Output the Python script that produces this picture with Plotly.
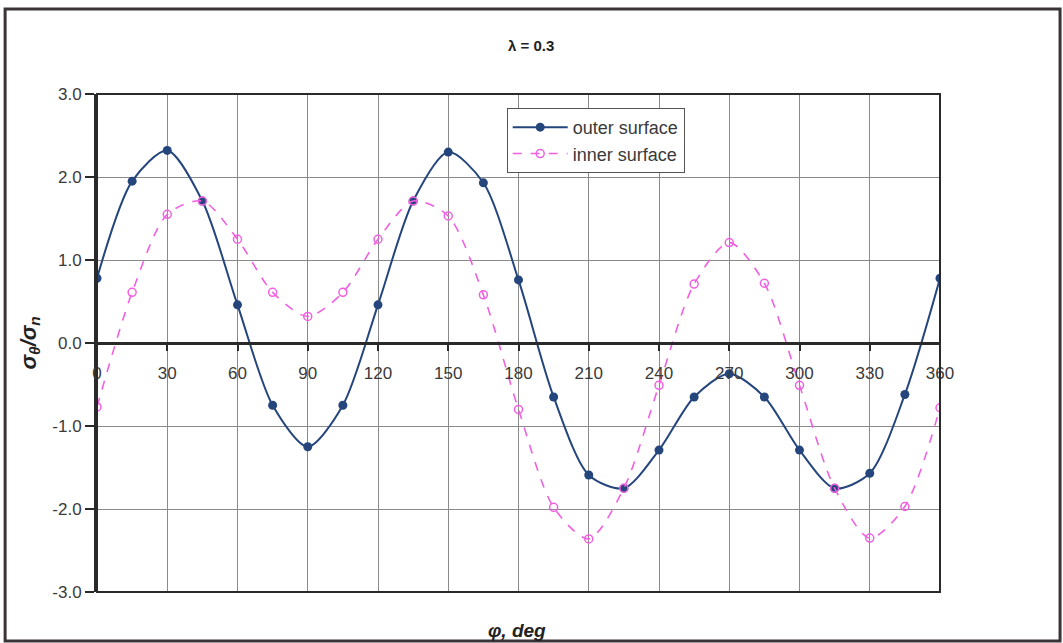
import plotly.graph_objects as go

# Angle around the circumference, degrees
phi = [0, 15, 30, 45, 60, 75, 90, 105, 120, 135, 150, 165, 180,
       195, 210, 225, 240, 255, 270, 285, 300, 315, 330, 345, 360]

# Normalised hoop stress sigma_theta / sigma_n
outer_surface = [0.78, 1.95, 2.32, 1.71, 0.46, -0.75, -1.25, -0.75, 0.46, 1.71, 2.30, 1.93, 0.76,
                 -0.65, -1.59, -1.75, -1.29, -0.65, -0.37, -0.65, -1.29, -1.75, -1.57, -0.62, 0.78]
inner_surface = [-0.77, 0.61, 1.55, 1.71, 1.25, 0.61, 0.32, 0.61, 1.25, 1.71, 1.53, 0.58, -0.80,
                 -1.98, -2.36, -1.75, -0.51, 0.71, 1.21, 0.72, -0.51, -1.75, -2.35, -1.97, -0.78]

x_ticks = [0, 30, 60, 90, 120, 150, 180, 210, 240, 270, 300, 330, 360]
y_ticks = [-3.0, -2.0, -1.0, 0.0, 1.0, 2.0, 3.0]

NAVY = "#25457d"
PINK = "#f060e0"
AXIS = "#2a2a2a"
TEXT = "#3a3a3a"
FONT = "Arial, Liberation Sans"

fig = go.Figure()
fig.add_trace(go.Scatter(
    x=phi, y=outer_surface, name="outer surface", mode="lines+markers",
    line=dict(color=NAVY, width=2, shape="spline", smoothing=0.8),
    marker=dict(color=NAVY, size=9, symbol="circle"),
))
fig.add_trace(go.Scatter(
    x=phi, y=inner_surface, name="inner surface", mode="lines+markers",
    line=dict(color=PINK, width=1.6, dash="dash", shape="spline", smoothing=0.8),
    marker=dict(color=PINK, size=8, symbol="circle-open", line=dict(width=1.5)),
))

# Outer frame around the whole chart
fig.add_shape(type="rect", xref="paper", yref="paper",
              x0=-0.109, x1=1.1424, y0=-0.0984, y1=1.1707,
              line=dict(color="#3a3338", width=3), layer="below")
# Plot area border
fig.add_shape(type="rect", xref="paper", yref="paper", x0=0, x1=1, y0=0, y1=1,
              line=dict(color=AXIS, width=2), layer="above")

fig.add_annotation(text="<b>λ = 0.3</b>", xref="paper", yref="paper",
                   x=0.515, y=1.097, xanchor="center", yanchor="middle", showarrow=False,
                   font=dict(family=FONT, size=15, color="#222"))
fig.add_annotation(text="<b><i>φ, deg</i></b>", xref="paper", yref="paper",
                   x=0.498, y=-0.078, xanchor="center", yanchor="middle", showarrow=False,
                   font=dict(family=FONT, size=19, color="#222"))
fig.add_annotation(text="<b><i>σ<sub>θ</sub>/σ<sub>n</sub></i></b>", xref="paper", yref="paper",
                   x=-0.080, y=0.5, xanchor="center", yanchor="middle",
                   showarrow=False, textangle=-90,
                   font=dict(family=FONT, size=22, color="#222"))

fig.update_layout(
    width=1063, height=643,
    margin=dict(l=97, r=123, t=94, b=51),
    paper_bgcolor="white", plot_bgcolor="white",
    font=dict(family=FONT, size=17, color=TEXT),
    showlegend=True,
    legend=dict(x=0.486, y=0.972, xanchor="left", yanchor="top",
                bgcolor="white", bordercolor="#555", borderwidth=1,
                font=dict(size=18, color=TEXT), itemwidth=55,
                tracegroupgap=0),
    xaxis=dict(range=[0, 360], tickvals=x_ticks, ticktext=[str(v) for v in x_ticks],
               showgrid=True, gridcolor="#8a8a8a", gridwidth=1,
               zeroline=False, showline=True, linecolor=AXIS, linewidth=3,
               anchor="free", position=0.5,
               ticks="outside", ticklen=6, tickwidth=2, tickcolor=AXIS,
               ticklabelstandoff=8),
    yaxis=dict(range=[-3, 3], tickvals=y_ticks, ticktext=[f"{v:.1f}" for v in y_ticks],
               showgrid=True, gridcolor="#8a8a8a", gridwidth=1,
               zeroline=False, showline=True, linecolor=AXIS, linewidth=3,
               ticks="outside", ticklen=9, tickwidth=2, tickcolor=AXIS),
)

fig.write_html("out.html")
